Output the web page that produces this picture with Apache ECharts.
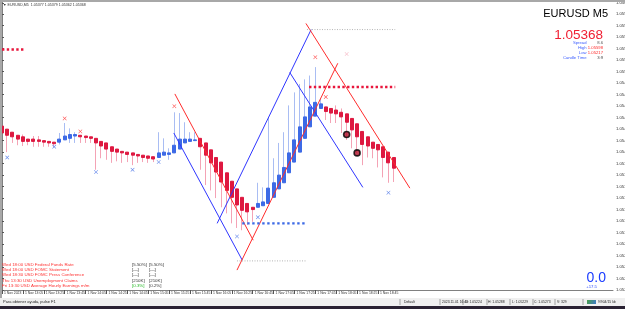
<!DOCTYPE html>
<html><head><meta charset="utf-8">
<script src="https://cdn.jsdelivr.net/npm/echarts@6/dist/echarts.min.js"></script>
<style>html,body{margin:0;padding:0;background:#fff;overflow:hidden}#c{width:625px;height:309px}</style>
</head><body><div id="c"></div>
<script>
// ---- data ----
const timeLabels = ["1 Nov 2023","1 Nov 13:05","1 Nov 13:25","1 Nov 13:45","1 Nov 14:05","1 Nov 14:25","1 Nov 14:45","1 Nov 15:05","1 Nov 15:25","1 Nov 15:45","1 Nov 16:05","1 Nov 16:25","1 Nov 16:45","1 Nov 17:05","1 Nov 17:25","1 Nov 17:45","1 Nov 18:05","1 Nov 18:25","1 Nov 18:45"];
// Heikin Ashi candles: [open, close, low, high]
const candles = [
[1.05439,1.05430,1.05417,1.05439],[1.05435,1.05427,1.05405,1.05435],[1.05431,1.05425,1.05417,1.05431],[1.05427,1.05422,1.05414,1.05427],
[1.05425,1.05419,1.05413,1.05428],[1.05422,1.05419,1.05414,1.05422],[1.05422,1.05419,1.05412,1.05426],[1.05421,1.05419,1.05412,1.05426],
[1.05420,1.05418,1.05412,1.05420],[1.05419,1.05417,1.05412,1.05419],[1.05418,1.05416,1.05412,1.05418],
[1.05418,1.05422,1.05415,1.05430],[1.05421,1.05426,1.05421,1.05443],[1.05423,1.05428,1.05417,1.05436],[1.05426,1.05428,1.05417,1.05431],
[1.05427,1.05425,1.05417,1.05427],[1.05426,1.05424,1.05417,1.05426],[1.05425,1.05423,1.05417,1.05425],
[1.05423,1.05417,1.05382,1.05423],[1.05419,1.05413,1.05397,1.05419],[1.05417,1.05409,1.05395,1.05417],[1.05412,1.05406,1.05391,1.05412],
[1.05409,1.05405,1.05393,1.05409],[1.05406,1.05404,1.05391,1.05406],[1.05405,1.05402,1.05392,1.05405],[1.05404,1.05401,1.05388,1.05404],
[1.05402,1.05400,1.05391,1.05402],[1.05401,1.05398,1.05392,1.05401],[1.05400,1.05397,1.05391,1.05400],[1.05399,1.05396,1.05392,1.05399],
[1.05398,1.05404,1.05398,1.05431],[1.05401,1.05405,1.05401,1.05423],[1.05402,1.05404,1.05395,1.05410],[1.05404,1.05414,1.05404,1.05457],
[1.05409,1.05422,1.05409,1.05456],[1.05417,1.05422,1.05417,1.05444],[1.05419,1.05422,1.05419,1.05431],[1.05420,1.05421,1.05420,1.05431],
[1.05423,1.05412,1.05382,1.05423],[1.05417,1.05401,1.05362,1.05417],[1.05408,1.05391,1.05355,1.05408],[1.05398,1.05379,1.05345,1.05398],
[1.05392,1.05366,1.05333,1.05392],[1.05378,1.05355,1.05325,1.05378],[1.05367,1.05346,1.05312,1.05367],[1.05357,1.05336,1.05306,1.05357],
[1.05346,1.05329,1.05303,1.05346],[1.05338,1.05327,1.05310,1.05338],[1.05333,1.05330,1.05314,1.05333],
[1.05333,1.05338,1.05333,1.05365],[1.05335,1.05340,1.05335,1.05359],[1.05338,1.05358,1.05338,1.05451],[1.05346,1.05365,1.05346,1.05397],
[1.05357,1.05375,1.05357,1.05417],[1.05365,1.05385,1.05365,1.05431],[1.05378,1.05404,1.05378,1.05466],[1.05392,1.05421,1.05392,1.05483],
[1.05405,1.05438,1.05405,1.05494],[1.05423,1.05451,1.05423,1.05500],[1.05438,1.05464,1.05438,1.05505],[1.05452,1.05470,1.05452,1.05516],
[1.05462,1.05468,1.05462,1.05475],
[1.05464,1.05458,1.05447,1.05464],[1.05462,1.05456,1.05443,1.05462],[1.05460,1.05455,1.05443,1.05466],[1.05457,1.05451,1.05430,1.05462],
[1.05455,1.05444,1.05421,1.05455],[1.05449,1.05434,1.05410,1.05449],[1.05442,1.05425,1.05404,1.05442],[1.05432,1.05415,1.05388,1.05432],
[1.05425,1.05413,1.05398,1.05425],[1.05418,1.05410,1.05397,1.05418],[1.05415,1.05408,1.05385,1.05415],[1.05412,1.05398,1.05372,1.05412],
[1.05405,1.05391,1.05365,1.05405],[1.05398,1.05384,1.05366,1.05398]
];
const currentPrice = 1.05368;
const priceMin = 1.05225, priceMax = 1.05601, priceStep = 0.00015;
// trend lines [barIndex, price]
const blueLine1 = [[32.9,1.05430],[46.0,1.05264]];
const blueLine2 = [[41.2,1.05312],[59.2,1.05565]];
const blueLine3 = [[55.1,1.05509],[69.1,1.05359]];
const redLine1  = [[33.1,1.05481],[48.1,1.05290]];
const redLine2  = [[45.0,1.05251],[64.3,1.05521]];
const redLine3  = [[58.2,1.05573],[78.1,1.05358]];
// dotted levels
const redDotsA   = [[0,1.05539],[4.1,1.05539]];
const redDotsB   = [[58.8,1.05490],[75.3,1.05490]];
const blueDots   = [[46.0,1.05312],[58.4,1.05312]];
const grayDotsHi = [[58.4,1.05565],[75.3,1.05565]];
const grayDotsLo = [[45.0,1.05263],[58.4,1.05263]];
// markers
const redMarks   = [[12,1.05449],[15,1.05432],[33,1.05465],[60,1.05529],[62,1.05477]];
const paleMarks  = [[66,1.05533]];
const blueMarks  = [[1,1.05398],[10,1.05412],[18,1.05379],[25,1.05382],[30,1.05392],[45,1.05295],[49,1.05320],[74,1.05352]];
const circleMarks= [[66,1.05428],[68,1.05404]];
// news panel
const eventTexts = ["Wed 18:00 USD Federal Funds Rate","Wed 18:00 USD FOMC Statement","Wed 18:30 USD FOMC Press Conference","Thu 13:30 USD Unemployment Claims","Fri 13:30 USD Average Hourly Earnings m/m"];
const eventFcst  = ["[5.50%]","[---]","[---]","[210K]","[0.3%]"];
const eventPrev  = ["[5.50%]","[---]","[---]","[210K]","[0.2%]"];
// info panel
const infoLabels = ["Spread","High","Low","Candle Time"];
const infoValues = ["8.6","1.05598","1.05217","3:9"];
const statusFields = ["Default","2023.11.01 16:40","O: 1.05224","H: 1.05288","L: 1.05229","C: 1.05273","V: 329","9/904/15 kb"];

// ---- chart ----
const FONT = "'Liberation Sans', Arial, sans-serif";
const N = 118;
const cats = Array.from({length:N},(_,i)=>String(i));
const bodyData = candles.map(([o,c])=>[o,c,Math.min(o,c),Math.max(o,c)]);
const XMARK = 'path://M0,1L1,0L5,4L9,0L10,1L6,5L10,9L9,10L5,6L1,10L0,9L4,5Z';
const showTick = (i)=> i%4===0 && i<candles.length;

function T(text,x,y,size,fill,align,valign){
  return {type:'text',x:x,y:y,silent:true,z:50,style:{text:text,fill:fill,font:size+'px '+FONT,textAlign:align||'left',textVerticalAlign:valign||'middle'}};
}
const g = [];
g.push({type:'rect',shape:{x:0,y:0,width:625,height:2},style:{fill:'#a8a8a8'},silent:true,z:40});
g.push({type:'rect',shape:{x:0,y:0,width:2,height:298},style:{fill:'#a8a8a8'},silent:true,z:40});
g.push(T('\u25BC EURUSD,M5  1.05377 1.05379 1.05362 1.05368',3,4.5,3.6,'#333','left'));
g.push(T('EURUSD M5',608,14,11,'#000','right'));
g.push(T('1.05368',603,35,13.5,'#f01e32','right'));
const infoColors = ['#555','#ff2a2a','#ff2a2a','#444'];
infoLabels.forEach((l,k)=>{
  const yy = 42.7 + k*5.2;
  g.push(T(l,586.5,yy,4.2,'#3a5cff','right'));
  g.push(T(infoValues[k],603,yy,4.2,infoColors[k],'right'));
});
g.push(T('0.0',606,278,14,'#1a3cff','right'));
g.push(T('+17.5',597,287,4.3,'#3050ff','right'));
const evY = [265,270,275,280.7,286];
eventTexts.forEach((t,k)=>{
  g.push(T(t,2,evY[k],4.4,'#ff3030','left'));
  g.push(T(eventFcst[k],132,evY[k],4.4,k===4?'#22b822':'#333','left'));
  g.push(T(eventPrev[k],149,evY[k],4.4,'#333','left'));
});
g.push({type:'rect',shape:{x:0,y:298,width:625,height:8},style:{fill:'#f0f0f0'},silent:true,z:40});
g.push({type:'rect',shape:{x:0,y:306,width:625,height:3},style:{fill:'#2a2233'},silent:true,z:40});
g.push(T('Para obtener ayuda, pulse F1',3,302,4,'#222','left'));
const sepX = [400,440,463,487,510,533,555,583];
const fieldX = [404,442,465,488,512,534,557,598];
sepX.forEach(x=>g.push({type:'line',shape:{x1:x,y1:299,x2:x,y2:305},style:{stroke:'#a0a0a0',lineWidth:1},silent:true,z:41}));
statusFields.forEach((f,k)=>g.push(T(f,fieldX[k],302,3.4,'#222','left')));
g.push({type:'rect',shape:{x:587,y:300,width:9,height:4},style:{fill:new echarts.graphic.LinearGradient(0,0,1,1,[{offset:0,color:'#4aa04a'},{offset:1,color:'#3c78c8'}])},silent:true,z:41});

function lineSeries(data,color,width,type){
  return {type:'line',xAxisIndex:1,yAxisIndex:0,data:data,symbol:'none',silent:true,z:5,
    lineStyle:{color:color,width:width,type:type||'solid',cap:'butt'}};
}

const option = {
  animation:false,
  backgroundColor:'#fff',
  grid:{left:2,right:12,top:2,bottom:19,containLabel:false,outerBoundsMode:'none'},
  xAxis:[
    {type:'category',data:cats,boundaryGap:false,
     axisLine:{show:true,lineStyle:{color:'#808080',width:1}},
     axisTick:{show:true,interval:(i)=>showTick(i),length:4,lineStyle:{color:'#555'}},
     axisLabel:{interval:(i)=>showTick(i),formatter:(v)=>timeLabels[Number(v)/4]||'',
       align:'left',padding:[0,0,0,2],margin:2,fontSize:3.4,color:'#333',fontFamily:FONT},
     splitLine:{show:false}},
    {type:'value',min:0,max:N-1,show:false}
  ],
  yAxis:[{type:'value',position:'right',min:priceMin,max:priceMax,interval:priceStep,scale:true,
    axisLine:{show:true,lineStyle:{color:'#808080'}},
    axisTick:{show:true,length:2,lineStyle:{color:'#555'}},
    axisLabel:{formatter:(v)=>v.toFixed(5),fontSize:4.2,color:'#333',margin:3,showMaxLabel:false,fontFamily:FONT},
    splitLine:{show:false}}],
  graphic:g,
  series:[
    {type:'candlestick',name:'wick',data:candles,barWidth:1,silent:true,z:2,
     itemStyle:{color:'#a9bdf3',color0:'#f4a3b5',borderColor:'#a9bdf3',borderColor0:'#f4a3b5',borderWidth:1}},
    {type:'candlestick',name:'body',data:bodyData,barWidth:3.6,silent:true,z:3,
     itemStyle:{color:'#3d6ae6',color0:'#de1840',borderColor:'#3d6ae6',borderColor0:'#de1840',borderWidth:1},
     markLine:{silent:true,symbol:'none',animation:false,
       lineStyle:{color:'#8c8c8c',width:1,type:'solid'},
       label:{show:true,position:'end',distance:1,formatter:currentPrice.toFixed(5),backgroundColor:'#111',color:'#fff',fontSize:4.2,padding:[1,2],fontFamily:FONT},
       data:[{yAxis:currentPrice}]}},
    lineSeries(blueLine1,'#2f36ff',1),
    lineSeries(blueLine2,'#2f36ff',1),
    lineSeries(blueLine3,'#2f36ff',1),
    lineSeries(redLine1,'#ff2c2c',1),
    lineSeries(redLine2,'#ff2c2c',1),
    lineSeries(redLine3,'#ff2c2c',1),
    lineSeries(redDotsA,'#e8163c',2.4,[2.4,2.35]),
    lineSeries(redDotsB,'#e8163c',2.4,[2.4,2.35]),
    lineSeries(blueDots,'#3d6ae6',2.4,[2.4,2.6]),
    lineSeries(grayDotsHi,'#b4b4b4',1,[1,1.5]),
    lineSeries(grayDotsLo,'#b4b4b4',1,[1,1.5]),
    {type:'scatter',xAxisIndex:1,data:redMarks,symbol:XMARK,symbolSize:4,silent:true,z:6,itemStyle:{color:'#ff2020'}},
    {type:'scatter',xAxisIndex:1,data:paleMarks,symbol:XMARK,symbolSize:4,silent:true,z:6,itemStyle:{color:'#f4a8b8'}},
    {type:'scatter',xAxisIndex:1,data:blueMarks,symbol:XMARK,symbolSize:4,silent:true,z:6,itemStyle:{color:'#3d6ae6'}},
    {type:'scatter',xAxisIndex:1,data:circleMarks,symbol:'circle',symbolSize:6,silent:true,z:7,itemStyle:{color:'#b0102a',borderColor:'#000',borderWidth:1.6}}
  ]
};
const chart = echarts.init(document.getElementById('c'),null,{renderer:'canvas'});
chart.setOption(option);
</script></body></html>
